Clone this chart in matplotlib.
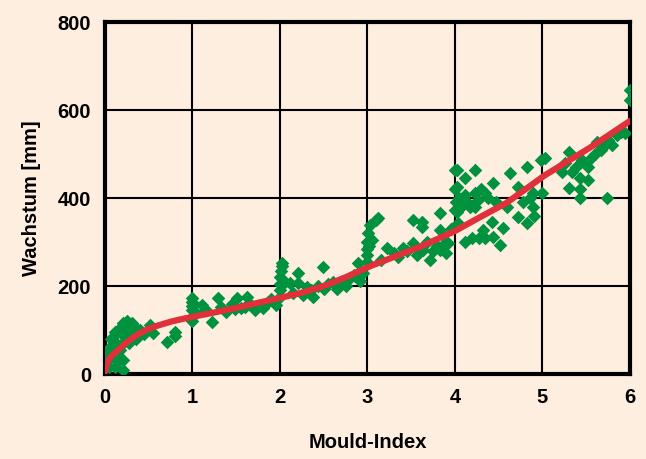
import matplotlib
matplotlib.use("Agg")
import matplotlib.pyplot as plt

# ========================================================
# DATEN
# ========================================================
mould_x = [
    0.02, 0.03, 0.05, 0.05, 0.07, 0.09, 0.10, 0.11, 0.11, 0.13, 0.15, 0.17, 0.19, 0.21, 0.21,
    0.21, 0.23, 0.25, 0.27, 0.29, 0.31, 0.31, 0.33, 0.35, 0.15, 0.08, 0.12, 0.18, 0.24, 0.28,
    0.51, 0.55, 0.45, 0.71, 0.80, 0.80, 0.40,
    0.99, 0.99, 0.99, 0.99, 1.00, 1.00, 1.03, 1.11, 1.15, 1.22, 1.29, 1.33, 1.38, 1.45, 1.49,
    1.51, 1.55, 1.60, 1.62, 1.66, 1.71, 1.75, 1.81, 1.86, 1.90, 1.95,
    2.00, 2.00, 2.00, 2.00, 2.01, 2.02, 2.02, 2.06, 2.11, 2.15, 2.21, 2.21, 2.26, 2.31, 2.35,
    2.38, 2.44, 2.49, 2.50, 2.55, 2.61, 2.65, 2.70, 2.75, 2.80, 2.85, 2.89, 2.91, 2.95,
    2.99, 3.00, 3.00, 3.00, 3.01, 3.02, 3.03, 3.10, 3.12, 3.05, 3.15, 3.22, 3.30, 3.35, 3.41,
    3.45, 3.52, 3.52, 3.57, 3.62, 3.62, 3.63, 3.68, 3.71, 3.75, 3.80, 3.83, 3.83, 3.83, 3.89,
    3.90, 3.92, 3.96,
    4.00, 4.00, 4.00, 4.01, 4.02, 4.02, 4.02, 4.03, 4.05, 4.07, 4.11, 4.11, 4.11, 4.14, 4.17,
    4.20, 4.23, 4.23, 4.23, 4.26, 4.28, 4.30, 4.32, 4.34, 4.34, 4.38, 4.42, 4.43, 4.43, 4.47,
    4.51, 4.55, 4.60, 4.63, 4.72, 4.72, 4.78, 4.82, 4.82, 4.86, 4.89, 4.89, 4.90, 4.99,
    5.00, 5.03, 5.22, 5.26, 5.31, 5.31, 5.34, 5.38, 5.43, 5.43, 5.43, 5.45, 5.52, 5.52, 5.55,
    5.60, 5.63, 5.67, 5.71, 5.74, 5.75, 5.80, 5.85, 5.90, 5.94, 6.00, 6.00,
]
wachstum = [
    30, 45, 60, 15, 80, 84, 50, 95, 16, 70, 100, 55, 90, 116, 32,
    9, 75, 120, 85, 100, 116, 93, 110, 80, 30, 40, 60, 65, 100, 70,
    111, 93, 90, 73, 95, 86, 100,
    130, 145, 155, 163, 172, 120, 140, 157, 145, 118, 172, 152, 140, 160, 148,
    172, 150, 153, 175, 160, 145, 155, 150, 164, 170, 158,
    175, 190, 205, 220, 235, 245, 252, 209, 207, 185, 230, 207, 180, 198, 190,
    175, 200, 243, 193, 205, 209, 193, 210, 200, 218, 225, 252, 211, 230,
    255, 270, 285, 300, 320, 290, 339, 350, 355, 305, 260, 286, 275, 265, 286,
    280, 350, 297, 270, 345, 335, 282, 300, 259, 280, 290, 366, 327, 282, 298,
    275, 297, 330,
    373, 420, 464, 390, 464, 425, 368, 343, 400, 380, 445, 407, 300, 390, 380,
    309, 464, 411, 380, 395, 310, 420, 327, 411, 309, 400, 345, 434, 311, 390,
    293, 332, 380, 457, 425, 357, 390, 470, 343, 400, 411, 380, 360, 486,
    411, 491, 459, 480, 505, 423, 459, 470, 445, 420, 400, 486, 441, 470, 488,
    500, 527, 510, 518, 400, 532, 520, 543, 550, 548, 623, 645,
]

# Trendkurve
kurve_x = [0.0, 0.02, 0.05, 0.10, 0.15, 0.20, 0.26, 0.33, 0.40, 0.50, 0.60, 0.75, 0.90,
           1.0, 1.25, 1.49, 1.75, 2.0, 2.25, 2.5, 2.75, 3.03, 3.3, 3.6, 4.0, 4.3, 4.59,
           5.03, 5.54, 6.0]
kurve_y = [5, 22, 35, 46, 54, 64, 74, 84, 93, 103, 110, 119, 126,
           130, 140, 150, 162, 173, 185, 200, 220, 245, 266, 289, 325, 358, 389,
           452, 514, 575]

hintergrund = "#FDEEE0"

fig = plt.figure(figsize=(6.46, 4.59), dpi=100)
fig.patch.set_facecolor(hintergrund)
ax = fig.add_axes([0.1625, 0.185, 0.8125, 0.767])
ax.set_facecolor(hintergrund)

ax.scatter(mould_x, wachstum, marker="D", s=48, color="#00923F", zorder=3, linewidths=0)
ax.plot(kurve_x, kurve_y, color="#E0303A", lw=4.5, zorder=4, solid_capstyle="round",
        solid_joinstyle="round")

ax.set_xlim(0, 6)
ax.set_ylim(0, 800)
ax.set_xticks(range(0, 7))
ax.set_yticks(range(0, 801, 200))
ax.grid(True, color="black", lw=1.5)
ax.set_axisbelow(True)
for sp in ax.spines.values():
    sp.set_linewidth(3)
ax.tick_params(length=0, pad=10)
for lbl in ax.get_xticklabels() + ax.get_yticklabels():
    lbl.set_fontweight("bold")
    lbl.set_fontsize(14.5)
    lbl.set_family("Liberation Sans")

ax.set_xlabel("Mould-Index", fontsize=14.5, fontweight="bold", family="Liberation Sans", labelpad=19)
ax.set_ylabel("Wachstum [mm]", fontsize=14.5, fontweight="bold", family="Liberation Sans", labelpad=12)

fig.savefig("out.png", dpi=100, facecolor=hintergrund)
